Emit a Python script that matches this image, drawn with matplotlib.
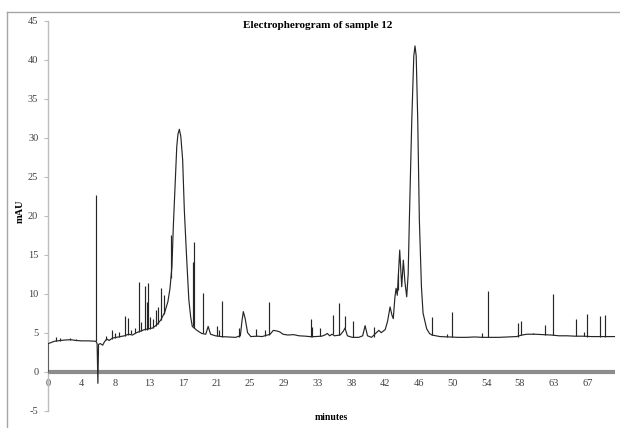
import numpy as np
import matplotlib
matplotlib.use('Agg')
import matplotlib.pyplot as plt
from matplotlib.lines import Line2D

plt.rcParams['font.family'] = ['Liberation Serif', 'DejaVu Serif']
plt.rcParams['axes.unicode_minus'] = False

# continuous part of the trace (minutes, mAU)
trace_t = [0, 0.01, 0.3, 0.8, 1.2, 2.0, 2.8, 3.5, 4.2, 5.0, 5.8, 5.95, 6.1, 6.2, 6.28,
           6.5, 6.8, 7.0, 7.3, 7.6, 8.0, 8.5, 9.0, 9.5, 10.0, 10.5, 11.0, 11.5, 12.0,
           12.5, 13.0, 13.5, 14.0, 14.5, 14.9, 15.16, 15.4, 15.57, 15.8, 16.0, 16.15,
           16.32, 16.5, 16.73, 16.94, 17.24, 17.5, 17.73, 17.93, 18.5, 19.1, 19.6, 19.9,
           20.2, 20.8, 21.5, 22.5, 23.3, 23.9, 24.1, 24.27, 24.5, 24.8, 25.2, 26.0, 26.6,
           27.6, 28.0, 28.5, 28.8, 29.2, 29.8, 30.5, 31.2, 32.0, 32.5, 33.2, 34.0, 34.4,
           34.7, 35.0, 35.3, 35.6, 36.3, 36.7, 36.9, 37.2, 37.8, 38.6, 39.1, 39.4, 39.7,
           40.2, 40.8, 41.1, 41.4, 41.9, 42.2, 42.5, 42.75, 42.9, 43.1, 43.25, 43.4, 43.7,
           43.95, 44.15, 44.35, 44.57, 44.75, 44.9, 45.2, 45.45, 45.6, 45.75, 45.94, 46.14,
           46.4, 46.6, 47.05, 47.4, 47.7, 48.7, 50.0, 51.0, 52.0, 53.0, 54.0, 55.0, 56.0,
           57.0, 58.2, 58.9, 59.5, 60.5, 61.5, 62.5, 63.5, 64.5, 65.5, 66.5, 67.5, 68.5,
           69.5, 70.45]
trace_v = [0, 3.6, 3.7, 3.9, 3.95, 4.05, 4.1, 4.0, 3.95, 3.95, 3.9, 3.9, 3.6, -1.5, 3.5,
           3.6, 3.4, 3.8, 4.2, 4.0, 4.3, 4.4, 4.5, 4.6, 4.8, 4.7, 5.0, 5.2, 5.4,
           5.5, 5.6, 6.0, 6.6, 7.6, 9.0, 10.7, 13.5, 18.6, 24.2, 28.9, 30.5,
           31.1, 30.2, 27.2, 20.7, 14.3, 9.2, 7.0, 5.8, 5.3, 4.9, 4.8, 5.8,
           4.8, 4.6, 4.5, 4.45, 4.4, 4.6, 6.5, 7.7, 6.8, 5.0, 4.5, 4.55, 4.5,
           4.8, 5.3, 5.2, 5.1, 4.8, 4.7, 4.75, 4.6, 4.55, 4.5, 4.5, 4.55, 4.7,
           4.9, 4.6, 4.8, 4.6, 4.7, 5.2, 5.6, 4.6, 4.4, 4.4, 4.6, 5.9, 4.6,
           4.4, 5.0, 5.3, 5.0, 5.4, 6.5, 8.3, 7.2, 6.8, 9.5, 10.7, 9.8, 15.6,
           10.9, 14.3, 11.5, 9.6, 12.5, 19.5, 32.3, 40.5, 41.8, 40.5, 32.3, 19.5,
           10.9, 7.5, 5.5, 4.9, 4.7, 4.5, 4.45, 4.4, 4.4, 4.45, 4.4, 4.4, 4.4,
           4.45, 4.5, 4.7, 4.8, 4.8, 4.75, 4.7, 4.6, 4.6, 4.55, 4.55, 4.5, 4.5,
           4.5, 4.5]

# narrow spikes: time, foot, top
spike_t = [1.0, 1.5, 2.7, 3.5, 5.96, 7.2, 7.9, 8.3, 8.8, 9.55, 9.9, 10.3, 10.8, 11.27,
           11.6, 12.1, 12.25, 12.4, 12.7, 13.1, 13.4, 13.7, 14.0, 14.4, 15.28, 18.0,
           18.14, 19.2, 20.96, 21.2, 21.6, 23.7, 25.85, 26.97, 27.4, 32.7, 32.85, 33.8,
           35.4, 36.2, 36.9, 37.9, 40.5, 43.5, 47.75, 49.6, 50.2, 53.97, 54.7, 58.4,
           58.8, 60.2, 61.76, 62.8, 65.6, 66.6, 67.0, 68.6, 69.2]
spike_base = [3.9, 3.95, 4.05, 4.0, 3.9, 4.0, 4.2, 4.3, 4.4, 4.6, 4.7, 4.8, 4.9, 5.1,
              5.2, 5.4, 5.4, 5.5, 5.5, 5.6, 5.9, 6.1, 6.6, 7.4, 12.0, 5.8,
              5.6, 4.9, 4.6, 4.55, 4.5, 4.45, 4.55, 4.6, 4.7, 4.5, 4.5, 4.55,
              4.8, 4.7, 5.6, 4.4, 4.5, 10.5, 4.7, 4.45, 4.45, 4.45, 4.4, 4.5,
              4.7, 4.8, 4.75, 4.7, 4.55, 4.55, 4.5, 4.5, 4.5]
spike_top = [4.4, 4.3, 4.3, 4.2, 22.7, 4.6, 5.4, 5.0, 5.1, 7.2, 6.9, 5.4, 5.6, 11.5,
             6.4, 11.0, 9.0, 11.4, 7.0, 6.8, 7.9, 8.3, 10.7, 9.8, 17.5, 14.1,
             16.7, 10.1, 5.8, 5.3, 9.1, 5.6, 5.5, 5.3, 9.0, 6.7, 5.7, 5.6,
             7.3, 8.8, 7.1, 6.5, 5.7, 12.5, 7.0, 4.8, 7.6, 4.9, 10.3, 6.2,
             6.5, 5.0, 6.0, 10.0, 6.7, 5.1, 7.35, 7.2, 7.3]

x_labels = ['0', '4', '8', '13', '17', '21', '25', '29', '33', '38', '42', '46',
            '50', '54', '58', '63', '67']
x_step = 67 / 16

W, H = 620, 428
fig = plt.figure(figsize=(W / 100, H / 100), dpi=100)
ax = fig.add_axes([48 / W, 1 - 410.6 / H, (615 - 48) / W, (410.6 - 21) / H])

line_col = '#262626'
ax.plot(trace_t, trace_v, color=line_col, lw=0.85, zorder=3)
ax.vlines(spike_t, spike_base, spike_top, color=line_col, lw=0.85, zorder=3)

ax.set_xlim(0, 70.45)
ax.set_ylim(-5, 45)
ax.set_yticks(range(-5, 46, 5))
ax.set_xticks([i * x_step for i in range(len(x_labels))])
ax.set_xticklabels(x_labels)

for s in ['top', 'right']:
    ax.spines[s].set_visible(False)
ax.spines['left'].set_color('#bdbdbd')
ax.spines['left'].set_linewidth(1)
ax.spines['bottom'].set_position(('data', 0))
ax.spines['bottom'].set_color('#8c8c8c')
ax.spines['bottom'].set_linewidth(3)
ax.spines['bottom'].set_capstyle('butt')

ax.tick_params(axis='y', direction='out', length=3, width=0.8, color='#bdbdbd',
               labelsize=7.5, labelcolor='#404040', pad=4)
ax.tick_params(axis='x', direction='out', length=0, labelsize=7.5,
               labelcolor='#404040', pad=5)

fig.text(317.5 / W, 1 - 26 / H, 'Electropherogram of sample 12', ha='center',
         va='center', fontsize=8, fontweight='bold')
fig.text(331.6 / W, 1 - 418 / H, 'minutes', ha='center', va='center',
         fontsize=7, fontweight='bold')
fig.text(20.7 / W, 1 - 211.7 / H, 'mAU', ha='center', va='center', rotation=90,
         fontsize=7.5, fontweight='bold')

# chart area border (only top and left edges are inside the picture)
fig.add_artist(Line2D([7.3 / W, 1], [1 - 12.3 / H] * 2, color='#a6a6a6', lw=1))
fig.add_artist(Line2D([7.3 / W] * 2, [0, 1 - 12.3 / H], color='#a6a6a6', lw=1))

fig.savefig('out.png', dpi=100, facecolor='white')
